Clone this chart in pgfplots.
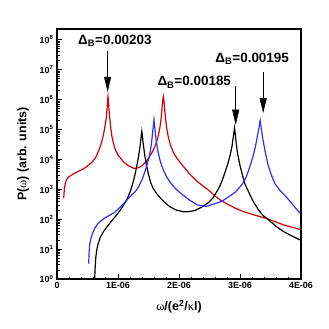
\documentclass[border=0pt]{standalone}
\usepackage{pgfplots}
\pgfplotsset{compat=1.18}
\usepackage{fontspec}
\setmainfont{Liberation Sans}
\newfontfamily\greek{Liberation Serif}
\usetikzlibrary{arrows.meta}
\definecolor{cred}{RGB}{210,0,0}
\definecolor{cblue}{RGB}{45,45,255}

% x in units of 1E-06 e^2/(kappa l)
\pgfplotstableread{
w      p
0.11   513
0.12   955
0.136  1622
0.16   2138
0.19   2570
0.25   3090
0.30   3548
0.37   4169
0.44   4898
0.50   6026
0.57   7943
0.63   11220
0.68   18620
0.72   31620
0.75   52480
0.775  93330
0.795  1.66e5
0.81   2.75e5
0.82   4.79e5
0.828  7.94e5
0.832  1.07e6
0.836  1.29e6
0.840  1.10e6
0.845  7.94e5
0.853  4.47e5
0.863  2.63e5
0.88   1.20e5
0.90   58880
0.93   31620
0.96   20420
1.00   14130
1.05   10470
1.10   7943
1.17   6166
1.26   5012
1.33   5248
1.39   6026
1.45   7943
1.50   10960
1.56   17380
1.61   28180
1.65   50120
1.68   95500
1.703  2.0e5
1.718  4.07e5
1.728  7.24e5
1.735  1.0e6
1.743  1.29e6
1.750  1.05e6
1.758  7.24e5
1.768  4.07e5
1.783  2.0e5
1.80   1.05e5
1.825  56230
1.86   30200
1.91   16600
1.98   10000
2.07   5888
2.18   3162
2.29   1905
2.40   1259
2.51   851
2.59   600
2.67   447
2.80   316
2.92   234
3.05   182
3.20   145
3.44   105
3.70   66
3.85   54
4.00   44.7
}\redtab

\pgfplotstableread{
w      p
0.618  1.0
0.625  2.24
0.635  5.01
0.65   8.91
0.67   14.1
0.71   25.1
0.76   38.0
0.82   56.2
0.90   89.1
0.98   141
1.04   204
1.09   295
1.15   479
1.20   832
1.24   1514
1.28   3162
1.31   6310
1.335  12020
1.355  22390
1.37   38020
1.38   60260
1.39   87100
1.40   63100
1.41   38020
1.425  22390
1.44   13180
1.47   6026
1.50   3162
1.54   1585
1.58   1047
1.63   741
1.69   525
1.77   355
1.85   263
1.95   204
2.07   178
2.15   178
2.26   195
2.37   251
2.48   355
2.56   525
2.64   977
2.70   1778
2.75   3467
2.80   7079
2.84   14130
2.87   28180
2.89   56230
2.91   1.12e5
2.925  63100
2.94   31620
2.96   15850
3.00   6310
3.04   3020
3.08   1514
3.14   832
3.22   380
3.30   209
3.38   132
3.44   107
3.49   87.1
3.60   56.2
3.72   38.0
3.85   27.5
3.98   20.4
}\blacktab

\pgfplotstableread{
w      p
0.52   3.24
0.525  7.08
0.535  13.2
0.55   20.4
0.58   33.1
0.62   50.1
0.67   70.8
0.73   91.2
0.80   115
0.93   162
1.00   214
1.09   331
1.20   575
1.26   759
1.31   977
1.36   1514
1.40   2239
1.45   4467
1.50   9772
1.53   19050
1.55   35480
1.565  70790
1.58   1.41e5
1.59   2.14e5
1.60   1.32e5
1.615  66070
1.63   38020
1.66   16600
1.69   9120
1.72   5888
1.76   3715
1.80   2570
1.85   1778
1.90   1318
1.96   977
2.07   631
2.18   427
2.30   302
2.45   269
2.59   331
2.70   398
2.81   550
2.92   794
3.03   1413
3.10   2512
3.16   5623
3.21   12020
3.25   25120
3.28   52480
3.31   1.12e5
3.33   2.0e5
3.35   1.05e5
3.38   41690
3.42   15140
3.46   6607
3.51   3162
3.57   1585
3.66   891
3.77   525
3.88   282
3.98   162
}\bluetab

\begin{document}
\begin{tikzpicture}
\begin{axis}[
  scale only axis, width=244bp, height=250bp,
  ymode=log,
  xmin=0, xmax=4, ymin=1, ymax=2.3e8,
  axis line style={line width=1.5pt},
  tick align=inside, tick pos=left,
  major tick length=5bp, minor tick length=2.5bp,
  every tick/.style={black, line width=0.7pt},
  xtick={0,1,2,3,4},
  xticklabels={0,1E-06,2E-06,3E-06,4E-06},
  minor x tick num=4,
  ytick={1,10,100,1e3,1e4,1e5,1e6,1e7,1e8},
  yticklabels={10\textsuperscript{0},10\textsuperscript{1},10\textsuperscript{2},10\textsuperscript{3},10\textsuperscript{4},10\textsuperscript{5},10\textsuperscript{6},10\textsuperscript{7},10\textsuperscript{8}},
  tick label style={font=\bfseries\fontsize{9}{10}\selectfont},
  label style={font=\bfseries\fontsize{12.5}{14}\selectfont},
  xlabel={{\greek\mdseries ω}/(e\textsuperscript{2}/{\greek\mdseries κ}l)},
  ylabel={P({\greek\mdseries ω}) (arb. units)},
  xlabel style={at={(axis description cs:0.5,-0.112)}, anchor=center},
  ylabel style={at={(axis description cs:-0.139,0.5)}, anchor=center},
  every axis plot/.append style={line width=1.2pt, no markers},
  clip=true,
]
\coordinate (ll) at (rel axis cs:0,0);
\addplot[cred] table[x=w, y=p] {\redtab};
\addplot[black] table[x=w, y=p] {\blacktab};
\addplot[cblue] table[x=w, y=p] {\bluetab};

% annotations
\draw[line width=0.5pt, -{Triangle[length=15bp, width=7bp]}]
  (axis cs:0.83,4.37e7) -- (axis cs:0.83,1.82e6);
\draw[line width=0.5pt, -{Triangle[length=15bp, width=7bp]}]
  (axis cs:2.93,2.88e6) -- (axis cs:2.93,1.45e5);
\draw[line width=0.5pt, -{Triangle[length=15bp, width=7bp]}]
  (axis cs:3.38,8.5e6) -- (axis cs:3.38,3.55e5);
\node[font=\bfseries\fontsize{13.5}{15}\selectfont] at (axis cs:0.95,9.55e7) {Δ\textsubscript{B}=0.00203};
\node[font=\bfseries\fontsize{13.5}{15}\selectfont] at (axis cs:2.25,3.8e6) {Δ\textsubscript{B}=0.00185};
\node[font=\bfseries\fontsize{13.5}{15}\selectfont] at (axis cs:3.20,2.29e7) {Δ\textsubscript{B}=0.00195};
\end{axis}
\pgfresetboundingbox
\path[use as bounding box] ([shift={(-57bp,-50bp)}]ll) rectangle ++(329bp,329bp);
\end{tikzpicture}
\end{document}
